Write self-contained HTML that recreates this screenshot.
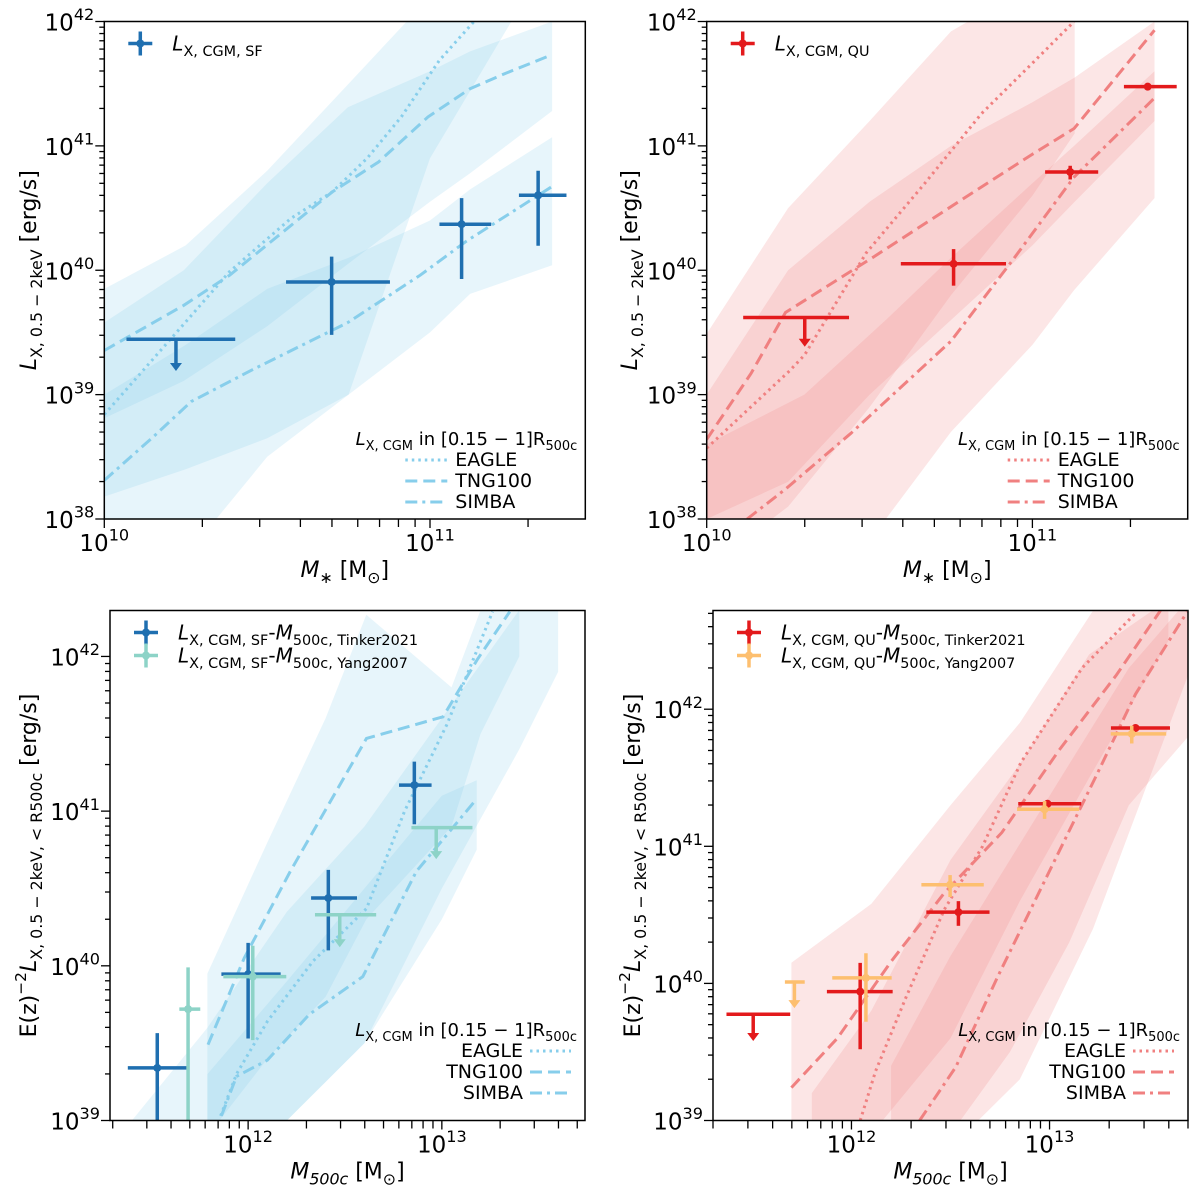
<!DOCTYPE html>
<html><head><meta charset="utf-8">
<style>
html,body{margin:0;padding:0;background:#fff;}
svg{display:block;font-family:"DejaVu Sans","Liberation Sans",sans-serif;}
</style></head>
<body>
<svg id="fig" width="1200" height="1188" viewBox="0 0 1200 1188" xmlns="http://www.w3.org/2000/svg"></svg>
<script>
// ================= DATA (log10 values) =================
// Top-left: SF, L_X vs M*
const tlPtX = [10.22, 10.698, 11.097, 11.332];
const tlPtXlo = [10.068, 10.558, 11.029, 11.273];
const tlPtXhi = [10.402, 10.877, 11.188, 11.419];
const tlPtY = [39.445, 39.906, 40.37, 40.603];
const tlPtYlo = [39.19, 39.48, 39.93, 40.197];
const tlPtYhi = [39.445, 40.11, 40.58, 40.80];
const tlPtUL = [1, 0, 0, 0];
const tlEagleX = [10.0, 10.244, 10.385, 10.572, 10.70, 10.807, 10.912, 11.029, 11.135];
const tlEagleY = [38.84, 39.567, 39.99, 40.415, 40.63, 40.9, 41.233, 41.688, 42.0];
const tlTngX = [10.0, 10.244, 10.385, 10.70, 10.842, 10.994, 11.123, 11.229, 11.375];
const tlTngY = [39.355, 39.718, 39.96, 40.63, 40.87, 41.233, 41.46, 41.58, 41.733];
const tlSimbaX = [10.0, 10.15, 10.267, 10.455, 10.748, 10.97, 11.111, 11.375];
const tlSimbaY = [38.31, 38.66, 38.945, 39.2, 39.58, 39.96, 40.233, 40.673];
const tlEagleBandX = [10.0, 10.25, 10.5, 10.75, 11.0, 11.25];
const tlEagleBandLo = [37.0, 37.7, 38.5, 39.0, 40.9, 42.0];
const tlEagleBandHi = [39.85, 40.2, 40.8, 41.5, 42.2, 42.5];
const tlTngBandX = [10.0, 10.244, 10.5, 10.748, 11.0, 11.123, 11.375];
const tlTngBandLo = [38.81, 39.11, 39.55, 40.05, 40.55, 40.78, 41.28];
const tlTngBandHi = [39.58, 40.0, 40.7, 41.31, 41.6, 41.76, 42.0];
const tlSimbaBandX = [10.0, 10.25, 10.5, 10.75, 11.0, 11.123, 11.375];
const tlSimbaBandLo = [38.18, 38.4, 38.65, 39.0, 39.5, 39.81, 40.04];
const tlSimbaBandHi = [39.0, 39.4, 39.85, 40.1, 40.4, 40.65, 41.07];

// Top-right: QU, L_X vs M*
const trPtX = [10.301, 10.758, 11.116, 11.354];
const trPtXlo = [10.112, 10.596, 11.039, 11.281];
const trPtXhi = [10.437, 10.919, 11.202, 11.443];
const trPtY = [39.62, 40.052, 40.79, 41.476];
const trPtYlo = [39.385, 39.876, 40.73, 41.46];
const trPtYhi = [39.62, 40.17, 40.84, 41.49];
const trPtUL = [1, 0, 0, 0];
const trEagleX = [10.0, 10.254, 10.301, 10.49, 10.667, 10.844, 10.998, 11.128];
const trEagleY = [38.57, 39.19, 39.32, 40.14, 40.69, 41.26, 41.66, 42.0];
const trTngX = [10.0, 10.136, 10.242, 10.514, 10.773, 10.998, 11.128, 11.375];
const trTngY = [38.64, 39.17, 39.66, 40.11, 40.55, 40.93, 41.14, 41.93];
const trSimbaX = [10.124, 10.242, 10.443, 10.75, 10.939, 11.128, 11.375];
const trSimbaY = [38.0, 38.24, 38.69, 39.43, 40.08, 40.75, 41.385];
const trEagleBandX = [10.0, 10.25, 10.5, 10.75, 11.0, 11.13];
const trEagleBandLo = [37.6, 38.1, 38.9, 39.8, 40.6, 41.1];
const trEagleBandHi = [39.49, 40.5, 41.2, 41.92, 42.3, 42.5];
const trTngBandX = [10.0, 10.25, 10.5, 10.75, 11.0, 11.13, 11.375];
const trTngBandLo = [38.0, 38.3, 39.0, 39.6, 40.2, 40.55, 41.2];
const trTngBandHi = [39.0, 40.0, 40.55, 41.0, 41.35, 41.55, 42.0];
const trSimbaBandX = [10.0, 10.3, 10.55, 10.75, 11.0, 11.128, 11.375];
const trSimbaBandLo = [37.5, 37.5, 38.0, 38.7, 39.4, 39.84, 40.58];
const trSimbaBandHi = [38.6, 39.0, 39.6, 40.1, 40.7, 41.0, 41.6];

// Bottom-left: SF, L_X vs M500c
const blTkX = [11.531, 12.0, 12.414, 12.858];
const blTkXlo = [11.379, 11.862, 12.325, 12.779];
const blTkXhi = [11.684, 12.168, 12.562, 12.947];
const blTkY = [39.34, 39.946, 40.438, 41.168];
const blTkYlo = [38.8, 39.53, 40.1, 40.915];
const blTkYhi = [39.565, 40.148, 40.62, 41.32];
const blTkUL = [0, 0, 0, 0];
const blYgX = [11.69, 12.024, 12.473, 12.971];
const blYgXlo = [11.645, 11.872, 12.345, 12.843];
const blYgXhi = [11.753, 12.197, 12.661, 13.158];
const blYgY = [39.72, 39.93, 40.33, 40.893];
const blYgYlo = [38.8, 39.52, 40.12, 40.69];
const blYgYhi = [39.99, 40.13, 40.33, 40.893];
const blYgUL = [0, 0, 1, 1];
const blEagleX = [11.858, 11.94, 12.099, 12.335, 12.611, 12.808, 13.026, 13.262];
const blEagleY = [39.03, 39.3, 39.64, 40.03, 40.37, 41.0, 41.56, 42.29];
const blTngX = [11.793, 11.98, 12.217, 12.611, 13.006, 13.183, 13.351];
const blTngY = [39.49, 40.05, 40.61, 41.47, 41.61, 41.98, 42.29];
const blSimbaX = [11.862, 11.94, 12.099, 12.316, 12.592, 12.868, 13.174];
const blSimbaY = [39.03, 39.285, 39.39, 39.686, 39.93, 40.61, 41.07];
const blEagleBandX = [11.4, 11.79, 12.2, 12.6, 13.0, 13.4, 13.6];
const blEagleBandLo = [38.8, 38.9, 39.0, 39.5, 40.5, 41.4, 41.9];
const blEagleBandHi = [39.0, 39.6, 40.35, 40.9, 41.6, 42.3, 42.4];
const blTngBandX = [11.79, 12.1, 12.4, 12.61, 13.05, 13.2, 13.4];
const blTngBandLo = [38.9, 39.4, 39.8, 40.3, 40.9, 41.5, 42.0];
const blTngBandHi = [39.95, 40.8, 41.6, 42.27, 41.8, 42.3, 42.4];
const blSimbaBandX = [11.79, 12.2, 12.6, 13.0, 13.18];
const blSimbaBandLo = [38.9, 39.0, 39.5, 40.3, 40.75];
const blSimbaBandHi = [39.3, 39.9, 40.5, 41.1, 41.2];

// Bottom-right: QU, L_X vs M500c
const brTkX = [11.504, 12.044, 12.54, 12.99, 13.434];
const brTkXlo = [11.369, 11.876, 12.378, 12.842, 13.31];
const brTkXhi = [11.691, 12.208, 12.697, 13.16, 13.608];
const brTkY = [39.775, 39.94, 40.52, 41.31, 41.863];
const brTkYlo = [39.58, 39.52, 40.42, 41.29, 41.85];
const brTkYhi = [39.775, 40.15, 40.6, 41.33, 41.88];
const brTkUL = [1, 0, 0, 0, 0];
const brYgX = [11.712, 12.073, 12.498, 12.975, 13.415];
const brYgXlo = [11.664, 11.903, 12.353, 12.836, 13.309];
const brYgXhi = [11.764, 12.203, 12.668, 13.15, 13.589];
const brYgY = [40.01, 40.04, 40.72, 41.27, 41.82];
const brYgYlo = [39.82, 39.72, 40.63, 41.2, 41.75];
const brYgYhi = [40.01, 40.22, 40.79, 41.33, 41.88];
const brYgUL = [1, 0, 0, 0, 0];
const brEagleX = [12.044, 12.122, 12.276, 12.469, 12.662, 12.855, 13.164, 13.434];
const brEagleY = [39.0, 39.36, 39.9, 40.54, 41.0, 41.61, 42.3, 42.7];
const brTngX = [11.697, 11.929, 12.2, 12.469, 12.759, 13.048, 13.338, 13.56];
const brTngY = [39.24, 39.6, 40.16, 40.66, 41.1, 41.7, 42.25, 42.72];
const brSimbaX = [12.344, 12.527, 12.739, 13.0, 13.241, 13.434, 13.695];
const brSimbaY = [39.0, 39.39, 40.05, 40.82, 41.53, 42.11, 42.71];
const brEagleBandX = [11.697, 12.1, 12.5, 12.85, 13.22, 13.7];
const brEagleBandLo = [38.9, 38.9, 38.8, 39.3, 40.4, 42.25];
const brEagleBandHi = [40.15, 40.58, 41.3, 41.9, 42.72, 42.8];
const brTngBandX = [11.8, 12.1, 12.5, 12.85, 13.2, 13.6];
const brTngBandLo = [38.7, 38.9, 39.6, 40.6, 41.5, 42.5];
const brTngBandHi = [39.2, 39.8, 40.9, 41.6, 42.4, 42.8];
const brSimbaBandX = [12.2, 12.5, 12.8, 13.1, 13.4, 13.7];
const brSimbaBandLo = [38.7, 38.9, 39.5, 40.3, 41.3, 41.8];
const brSimbaBandHi = [39.4, 40.2, 40.9, 41.6, 42.3, 42.8];

// ================= RENDERING =================
const NS = 'http://www.w3.org/2000/svg';
const svg = document.getElementById('fig');
function mk(tag, attrs, parent) {
  const e = document.createElementNS(NS, tag);
  for (const k in attrs) e.setAttribute(k, attrs[k]);
  (parent || svg).appendChild(e);
  return e;
}
function rich(parent, x, y, parts, size, anchor, transform) {
  const t = mk('text', {x: x, y: y, 'font-size': size, 'text-anchor': anchor || 'start', fill: '#000'}, parent);
  if (transform) t.setAttribute('transform', transform);
  let shift = 0;
  for (const [txt, kind] of parts) {
    const ts = mk('tspan', {}, t);
    let target = 0, fs = size;
    if (kind === 's' || kind === 'si') { target = size * 0.28; fs = size * 0.72; }
    if (kind === 'p') { target = -size * 0.45; fs = size * 0.7; }
    if (kind === 'i' || kind === 'si') ts.setAttribute('font-style', 'italic');
    ts.setAttribute('font-size', fs);
    if (target !== shift) { ts.setAttribute('dy', target - shift); shift = target; }
    ts.textContent = txt;
  }
  return t;
}

function panel(cfg) {
  const g = mk('g', {});
  
  
  const {L, R, T, B, x0, x1, y0, y1} = cfg;
  const sx = v => L + (v - x0) / (x1 - x0) * (R - L);
  const sy = v => B - (v - y0) / (y1 - y0) * (B - T);
  const clipId = 'clip-' + cfg.name;
  const cp = mk('clipPath', {id: clipId}, g);
  mk('rect', {x: L, y: T, width: R - L, height: B - T}, cp);
  const plot = mk('g', {'clip-path': 'url(#' + clipId + ')'}, g);

  cfg.bands.forEach(([bx, lo, hi, nm]) => {
    let d = '';
    bx.forEach((v, i) => { d += (i ? 'L' : 'M') + sx(v).toFixed(1) + ',' + sy(hi[i]).toFixed(1); });
    for (let i = bx.length - 1; i >= 0; i--) d += 'L' + sx(bx[i]).toFixed(1) + ',' + sy(lo[i]).toFixed(1);
    const p = mk('path', {d: d + 'Z', fill: cfg.bandColor, 'fill-opacity': 0.2, stroke: 'none'}, plot);
    
    
  });
  const dashes = {eagle: '2.5,4', tng: '12,6', simba: '12,5,3,5'};
  cfg.lines.forEach(([lx, ly, kind]) => {
    const pts = lx.map((v, i) => sx(v).toFixed(1) + ',' + sy(ly[i]).toFixed(1)).join(' ');
    const pl = mk('polyline', {points: pts, fill: 'none', stroke: cfg.lineColor, 'stroke-width': 3, 'stroke-dasharray': dashes[kind]}, plot);
    
    
  });
  cfg.series.forEach(s => {
    s.x.forEach((v, i) => {
      const pg = mk('g', {stroke: s.color, fill: s.color, 'stroke-width': 3.5}, plot);
      
      
      const cx = sx(v), cy = sy(s.y[i]);
      mk('line', {x1: sx(s.xlo[i]), x2: sx(s.xhi[i]), y1: cy, y2: cy}, pg);
      if (s.ul[i]) {
        const tip = sy(s.ylo[i]);
        mk('line', {x1: cx, x2: cx, y1: cy, y2: tip - 6}, pg);
        mk('path', {d: `M${cx - 6},${tip - 8}L${cx + 6},${tip - 8}L${cx},${tip}Z`, stroke: 'none'}, pg);
      } else {
        mk('line', {x1: cx, x2: cx, y1: sy(s.yhi[i]), y2: sy(s.ylo[i])}, pg);
        mk('circle', {cx: cx, cy: cy, r: 4, stroke: 'none'}, pg);
      }
    });
  });

  const fr = mk('rect', {x: L, y: T, width: R - L, height: B - T, fill: 'none', stroke: '#000', 'stroke-width': 1.5}, g);
  
  
  for (let d = Math.floor(x0); d <= Math.ceil(x1); d++) {
    for (let m = 1; m <= 9; m++) {
      const v = d + Math.log10(m);
      if (v < x0 - 1e-6 || v > x1 + 1e-6) continue;
      const X = sx(v);
      mk('line', {x1: X, x2: X, y1: B, y2: B + (m === 1 ? 9 : 8), stroke: '#000', 'stroke-width': 1.3}, g);
      if (m === 1) {
        const tl = rich(g, X, B + 32, [['10', 'n'], [String(d), 'p']], 23, 'middle');
        
        
      }
    }
  }
  for (let d = Math.floor(y0); d <= Math.ceil(y1); d++) {
    for (let m = 1; m <= 9; m++) {
      const v = d + Math.log10(m);
      if (v < y0 - 1e-6 || v > y1 + 1e-6) continue;
      const Y = sy(v);
      mk('line', {x1: L - (m === 1 ? 9 : 5), x2: L, y1: Y, y2: Y, stroke: '#000', 'stroke-width': 1.3}, g);
      if (m === 1) {
        const tl = rich(g, L - 10, Y + 9, [['10', 'n'], [String(d), 'p']], 23, 'end');
        
        
      }
    }
  }
  const xl = rich(g, (L + R) / 2, B + 58, cfg.xlabel, 22, 'middle');
  
  
  const yx = cfg.ylx, yy = (T + B) / 2;
  const yl = rich(g, yx, yy, cfg.ylabel, 22, 'middle', `rotate(-90 ${yx} ${yy})`);
  
  

  cfg.series.forEach((s, k) => {
    const lg = mk('g', {}, g);
    
    
    const ly = T + 22 + k * 23;
    const hx = L + 36;
    mk('line', {x1: hx - 12, x2: hx + 12, y1: ly, y2: ly, stroke: s.color, 'stroke-width': 3.5}, lg);
    mk('line', {x1: hx, x2: hx, y1: ly - 12, y2: ly + 12, stroke: s.color, 'stroke-width': 3.5}, lg);
    mk('circle', {cx: hx, cy: ly, r: 4, fill: s.color}, lg);
    rich(lg, L + 68, ly + 7, s.label, 20, 'start');
  });
  const sl = mk('g', {}, g);
  
  
  rich(sl, R - 8, cfg.legY, [['L', 'i'], ['X, CGM', 's'], [' in [0.15 − 1]R', 'n'], ['500c', 's']], 18, 'end');
  ['EAGLE', 'TNG100', 'SIMBA'].forEach((nm, k) => {
    const y = cfg.legY + 21 + k * 21;
    const kind = ['eagle', 'tng', 'simba'][k];
    if (cfg.legTextRight) {
      mk('line', {x1: R - 55, x2: R - 14, y1: y - 6, y2: y - 6, stroke: cfg.lineColor, 'stroke-width': 3, 'stroke-dasharray': dashes[kind]}, sl);
      rich(sl, R - 62, y, [[nm, 'n']], 19, 'end');
    } else {
      mk('line', {x1: R - 180, x2: R - 138, y1: y - 6, y2: y - 6, stroke: cfg.lineColor, 'stroke-width': 3, 'stroke-dasharray': dashes[kind]}, sl);
      rich(sl, R - 130, y, [[nm, 'n']], 19, 'start');
    }
  });
}

const BLUE = '#1f6fb0', LBLUE = '#87ceeb', RED = '#e31a1c', LRED = '#f08080', TEAL = '#8dd3c7', ORANGE = '#fdbf6f';
const xMstar = [['M', 'i'], ['∗', 'si'], [' [M', 'n'], ['⊙', 's'], [']', 'n']];
const xM500 = [['M', 'i'], ['500c', 'si'], [' [M', 'n'], ['⊙', 's'], [']', 'n']];
const yTop = [['L', 'i'], ['X, 0.5 − 2keV', 's'], [' [erg/s]', 'n']];
const yBot = [['E(z)', 'n'], ['−2', 'p'], ['L', 'i'], ['X, 0.5 − 2keV, < R', 's'], ['500c', 's'], [' [erg/s]', 'n']];

panel({name: 'panel-sf-mstar', L: 104.3, R: 585.3, T: 21.5, B: 519, x0: 10, x1: 11.4768, y0: 38, y1: 42,
  bandColor: LBLUE, lineColor: LBLUE, xlabel: xMstar, ylabel: yTop, ylx: 36, legY: 445, legTextRight: false,
  bands: [[tlEagleBandX, tlEagleBandLo, tlEagleBandHi, 'eagle-band'], [tlTngBandX, tlTngBandLo, tlTngBandHi, 'tng-band'], [tlSimbaBandX, tlSimbaBandLo, tlSimbaBandHi, 'simba-band']],
  lines: [[tlEagleX, tlEagleY, 'eagle'], [tlTngX, tlTngY, 'tng'], [tlSimbaX, tlSimbaY, 'simba']],
  series: [{nm: 'sf', color: BLUE, x: tlPtX, xlo: tlPtXlo, xhi: tlPtXhi, y: tlPtY, ylo: tlPtYlo, yhi: tlPtYhi, ul: tlPtUL,
    label: [['L', 'i'], ['X, CGM, SF', 's']]}]
});
panel({name: 'panel-qu-mstar', L: 706.7, R: 1187.7, T: 21.5, B: 519, x0: 10, x1: 11.4768, y0: 38, y1: 42,
  bandColor: LRED, lineColor: LRED, xlabel: xMstar, ylabel: yTop, ylx: 637, legY: 445, legTextRight: false,
  bands: [[trEagleBandX, trEagleBandLo, trEagleBandHi, 'eagle-band'], [trTngBandX, trTngBandLo, trTngBandHi, 'tng-band'], [trSimbaBandX, trSimbaBandLo, trSimbaBandHi, 'simba-band']],
  lines: [[trEagleX, trEagleY, 'eagle'], [trTngX, trTngY, 'tng'], [trSimbaX, trSimbaY, 'simba']],
  series: [{nm: 'qu', color: RED, x: trPtX, xlo: trPtXlo, xhi: trPtXhi, y: trPtY, ylo: trPtYlo, yhi: trPtYhi, ul: trPtUL,
    label: [['L', 'i'], ['X, CGM, QU', 's']]}]
});
panel({name: 'panel-sf-m500', L: 110, R: 585, T: 610.5, B: 1120.5, x0: 11.287, x1: 13.739, y0: 39, y1: 42.297,
  bandColor: LBLUE, lineColor: LBLUE, xlabel: xM500, ylabel: yBot, ylx: 36, legY: 1036, legTextRight: true,
  bands: [[blEagleBandX, blEagleBandLo, blEagleBandHi, 'eagle-band'], [blTngBandX, blTngBandLo, blTngBandHi, 'tng-band'], [blSimbaBandX, blSimbaBandLo, blSimbaBandHi, 'simba-band']],
  lines: [[blEagleX, blEagleY, 'eagle'], [blTngX, blTngY, 'tng'], [blSimbaX, blSimbaY, 'simba']],
  series: [
    {nm: 'sf-tinker2021', color: BLUE, x: blTkX, xlo: blTkXlo, xhi: blTkXhi, y: blTkY, ylo: blTkYlo, yhi: blTkYhi, ul: blTkUL,
      label: [['L', 'i'], ['X, CGM, SF', 's'], ['-', 'n'], ['M', 'i'], ['500c, Tinker2021', 's']]},
    {nm: 'sf-yang2007', color: TEAL, x: blYgX, xlo: blYgXlo, xhi: blYgXhi, y: blYgY, ylo: blYgYlo, yhi: blYgYhi, ul: blYgUL,
      label: [['L', 'i'], ['X, CGM, SF', 's'], ['-', 'n'], ['M', 'i'], ['500c, Yang2007', 's']]}]
});
panel({name: 'panel-qu-m500', L: 713, R: 1188, T: 610.5, B: 1120.5, x0: 11.301, x1: 13.699, y0: 39, y1: 42.72,
  bandColor: LRED, lineColor: LRED, xlabel: xM500, ylabel: yBot, ylx: 640, legY: 1036, legTextRight: true,
  bands: [[brEagleBandX, brEagleBandLo, brEagleBandHi, 'eagle-band'], [brTngBandX, brTngBandLo, brTngBandHi, 'tng-band'], [brSimbaBandX, brSimbaBandLo, brSimbaBandHi, 'simba-band']],
  lines: [[brEagleX, brEagleY, 'eagle'], [brTngX, brTngY, 'tng'], [brSimbaX, brSimbaY, 'simba']],
  series: [
    {nm: 'qu-tinker2021', color: RED, x: brTkX, xlo: brTkXlo, xhi: brTkXhi, y: brTkY, ylo: brTkYlo, yhi: brTkYhi, ul: brTkUL,
      label: [['L', 'i'], ['X, CGM, QU', 's'], ['-', 'n'], ['M', 'i'], ['500c, Tinker2021', 's']]},
    {nm: 'qu-yang2007', color: ORANGE, x: brYgX, xlo: brYgXlo, xhi: brYgXhi, y: brYgY, ylo: brYgYlo, yhi: brYgYhi, ul: brYgUL,
      label: [['L', 'i'], ['X, CGM, QU', 's'], ['-', 'n'], ['M', 'i'], ['500c, Yang2007', 's']]}]
});
</script>
</body></html>
